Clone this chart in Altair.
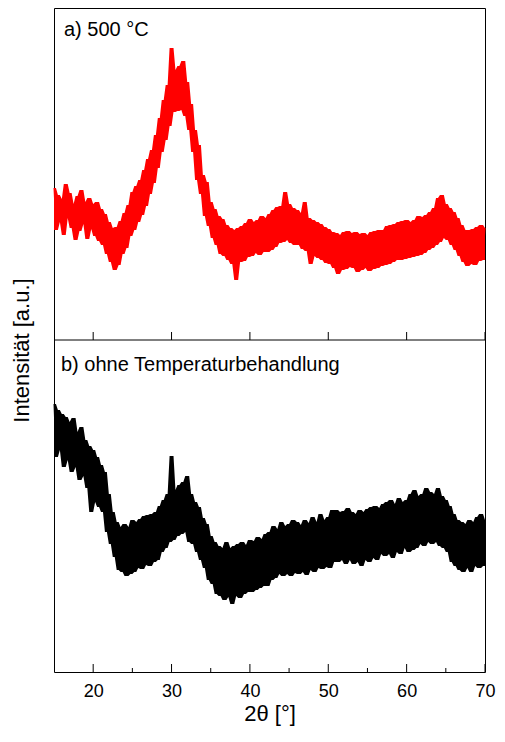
import altair as alt
import pandas as pd

# 2θ grid (0.25° steps from 15° to 70°)
two_theta = [15 + 0.25 * i for i in range(221)]

# a) 500 °C  (intensity, a.u., read off the picture)
int_500 = [
    152, 110, 145, 118,  141, 105, 156, 122,  147, 112, 136, 100,  144, 109, 150, 116,
    138, 101, 142, 111,  136, 104, 138, 99,   131, 95, 126, 86,    118, 78, 112, 70,
    113, 75, 119, 86,    127, 92, 135, 104,   148, 110, 154, 118,  160, 125, 170, 134,
    181, 146, 190, 157,  205, 172, 222, 188,  240, 200, 255, 214,  292, 228, 270, 229,
    274, 230, 279, 224,  258, 210, 236, 188,  210, 160, 195, 146,  165, 124, 158, 114,
    138, 102, 131, 95,   124, 86, 121, 84,    115, 80, 112, 76,    110, 60, 112, 78,
    114, 79, 117, 83,    121, 84, 118, 87,    120, 85, 124, 88,    122, 88, 126, 90,
    130, 93, 133, 97,    134, 98, 148, 100,   136, 97, 132, 95,    130, 95, 127, 91,
    138, 89, 122, 76,    120, 84, 118, 82,    116, 80, 113, 77,    111, 76, 108, 72,
    107, 66, 105, 70,    108, 71, 109, 73,    107, 72, 108, 68,    106, 70, 107, 72,
    105, 69, 108, 71,    109, 72, 110, 74,    110, 75, 114, 76,    115, 78, 116, 80,
    118, 80, 119, 81,    120, 82, 118, 83,    120, 84, 124, 85,    123, 87, 125, 90,
    128, 92, 132, 95,    142, 98, 145, 102,   136, 100, 132, 95,   128, 90, 122, 84,
    115, 78, 110, 74,    110, 76, 111, 75,    113, 79, 115, 80,    112,
]

# b) ohne Temperaturbehandlung
int_raw = [
    268, 215, 262, 222,  258, 205, 255, 212,  250, 200, 254, 205,  240, 192, 245, 196,
    232, 184, 226, 160,  222, 170, 215, 165,  207, 160, 200, 140,  178, 128, 160, 115,
    150, 102, 145, 100,  148, 96, 145, 98,    152, 100, 150, 104,  153, 103, 156, 107,
    157, 106, 158, 110,  160, 112, 166, 120,  172, 124, 178, 130,  216, 132, 182, 136,
    187, 138, 190, 140,  196, 130, 178, 128,  170, 120, 165, 112,  154, 104, 148, 92,
    136, 88, 130, 78,    126, 76, 124, 72,    130, 75, 124, 68,    126, 76, 128, 74,
    130, 78, 127, 80,    132, 80, 131, 82,    135, 84, 133, 86,    138, 86, 140, 92,
    146, 94, 143, 98,    150, 96, 146, 98,    148, 96, 152, 99,    150, 98, 147, 100,
    152, 97, 149, 102,   155, 100, 150, 104,  158, 103, 152, 105,  155, 104, 162, 110,
    162, 110, 160, 112,  161, 108, 164, 112,  160, 108, 158, 110,  162, 106, 160, 112,
    163, 110, 165, 114,  166, 112, 164, 118,  168, 116, 170, 118,  172, 114, 168, 120,
    174, 118, 170, 124,  172, 120, 178, 122,  182, 124, 176, 128,  178, 126, 184, 130,
    180, 128, 178, 130,  184, 126, 176, 124,  172, 120, 166, 110,  158, 106, 152, 102,
    150, 100, 148, 104,  152, 100, 150, 106,  155, 104, 158, 106,  152,
]

major_ticks = [20, 30, 40, 50, 60, 70]
minor_ticks = [25, 35, 45, 55, 65]
labels = ["a) 500 °C", "b) ohne Temperaturbehandlung"]

FONT = "Liberation Sans"
W, H = 431, 664
SPLIT = 332                 # pixel row of the panel divider
panel_offset = H - SPLIT    # top panel stacked above the bottom one

df_top = pd.DataFrame({"theta": two_theta, "raw": int_500})
df_bot = pd.DataFrame({"theta": two_theta, "raw": int_raw})

x_scale = alt.Scale(domain=[15, 70], nice=False, zero=False)
y_scale = alt.Scale(domain=[0, H], nice=False, zero=False)

x_enc = alt.X(
    "theta:Q", scale=x_scale,
    axis=alt.Axis(values=major_ticks, title="2θ [°]", ticks=False, domain=False, grid=False,
                  labelFontSize=18, labelFont=FONT, labelColor="black", labelPadding=10,
                  labelFlush=False,
                  titleFontSize=22, titleFont=FONT, titleFontWeight="normal",
                  titleColor="black", titlePadding=3, format="d"),
)
y_axis = alt.Axis(title="Intensität [a.u.]", labels=False, ticks=False, domain=False,
                  grid=False, titleFontSize=22, titleFont=FONT, titleY=342,
                  titleFontWeight="normal", titleColor="black", titlePadding=21)


def trace(df, offset, color, with_axes):
    base = alt.Chart(df).transform_calculate(
        val=f"datum.raw + {offset}"
    ).transform_window(
        hi="max(val)", lo="min(val)", frame=[-1, 1], sort=[alt.SortField("theta")]
    )
    xe = x_enc if with_axes else alt.X("theta:Q", scale=x_scale)
    ye = alt.Y("lo:Q", scale=y_scale, axis=y_axis) if with_axes else alt.Y("lo:Q", scale=y_scale)
    band = base.mark_area(color=color, opacity=1).encode(x=xe, y=ye, y2="hi:Q")
    line = base.mark_line(color=color, strokeWidth=1).encode(
        x=alt.X("theta:Q", scale=x_scale),
        y=alt.Y("val:Q", scale=y_scale),
    )
    return band + line


top_tr = trace(df_top, panel_offset, "#ff0000", True)
bot_tr = trace(df_bot, 0, "black", False)

divider = alt.Chart(pd.DataFrame({"d": [0]})).mark_rule(color="black", strokeWidth=1).encode(
    x=alt.value(0), x2=alt.value(W), y=alt.value(SPLIT)
)

df_major = pd.DataFrame({"t": major_ticks})
df_minor = pd.DataFrame({"t": minor_ticks})

major_bot = alt.Chart(df_major).mark_rule(color="black", strokeWidth=1).encode(
    x=alt.X("t:Q", scale=x_scale), y=alt.value(H), y2=alt.value(H - 8)
)
minor_bot = alt.Chart(df_minor).mark_rule(color="black", strokeWidth=1).encode(
    x=alt.X("t:Q", scale=x_scale), y=alt.value(H), y2=alt.value(H - 4)
)
major_top = alt.Chart(df_major).mark_rule(color="black", strokeWidth=1).encode(
    x=alt.X("t:Q", scale=x_scale), y=alt.value(SPLIT), y2=alt.value(SPLIT - 8)
)

lab_a = alt.Chart(pd.DataFrame({"txt": [labels[0]]})).mark_text(
    align="left", baseline="alphabetic", fontSize=20, font=FONT, color="black"
).encode(text="txt:N", x=alt.value(10), y=alt.value(28))
lab_b = alt.Chart(pd.DataFrame({"txt": [labels[1]]})).mark_text(
    align="left", baseline="alphabetic", fontSize=20, font=FONT, color="black"
).encode(text="txt:N", x=alt.value(7), y=alt.value(363))

chart = alt.layer(
    top_tr, bot_tr, divider, major_bot, minor_bot, major_top, lab_a, lab_b
).properties(
    width=W, height=H,
    padding={"left": 46, "top": 0, "right": 12, "bottom": 55},
    autosize=alt.AutoSizeParams(type="none"),
).configure_view(
    stroke="black", strokeWidth=1
)

chart.save("out.html", embed_options={"renderer": "svg", "actions": False})
